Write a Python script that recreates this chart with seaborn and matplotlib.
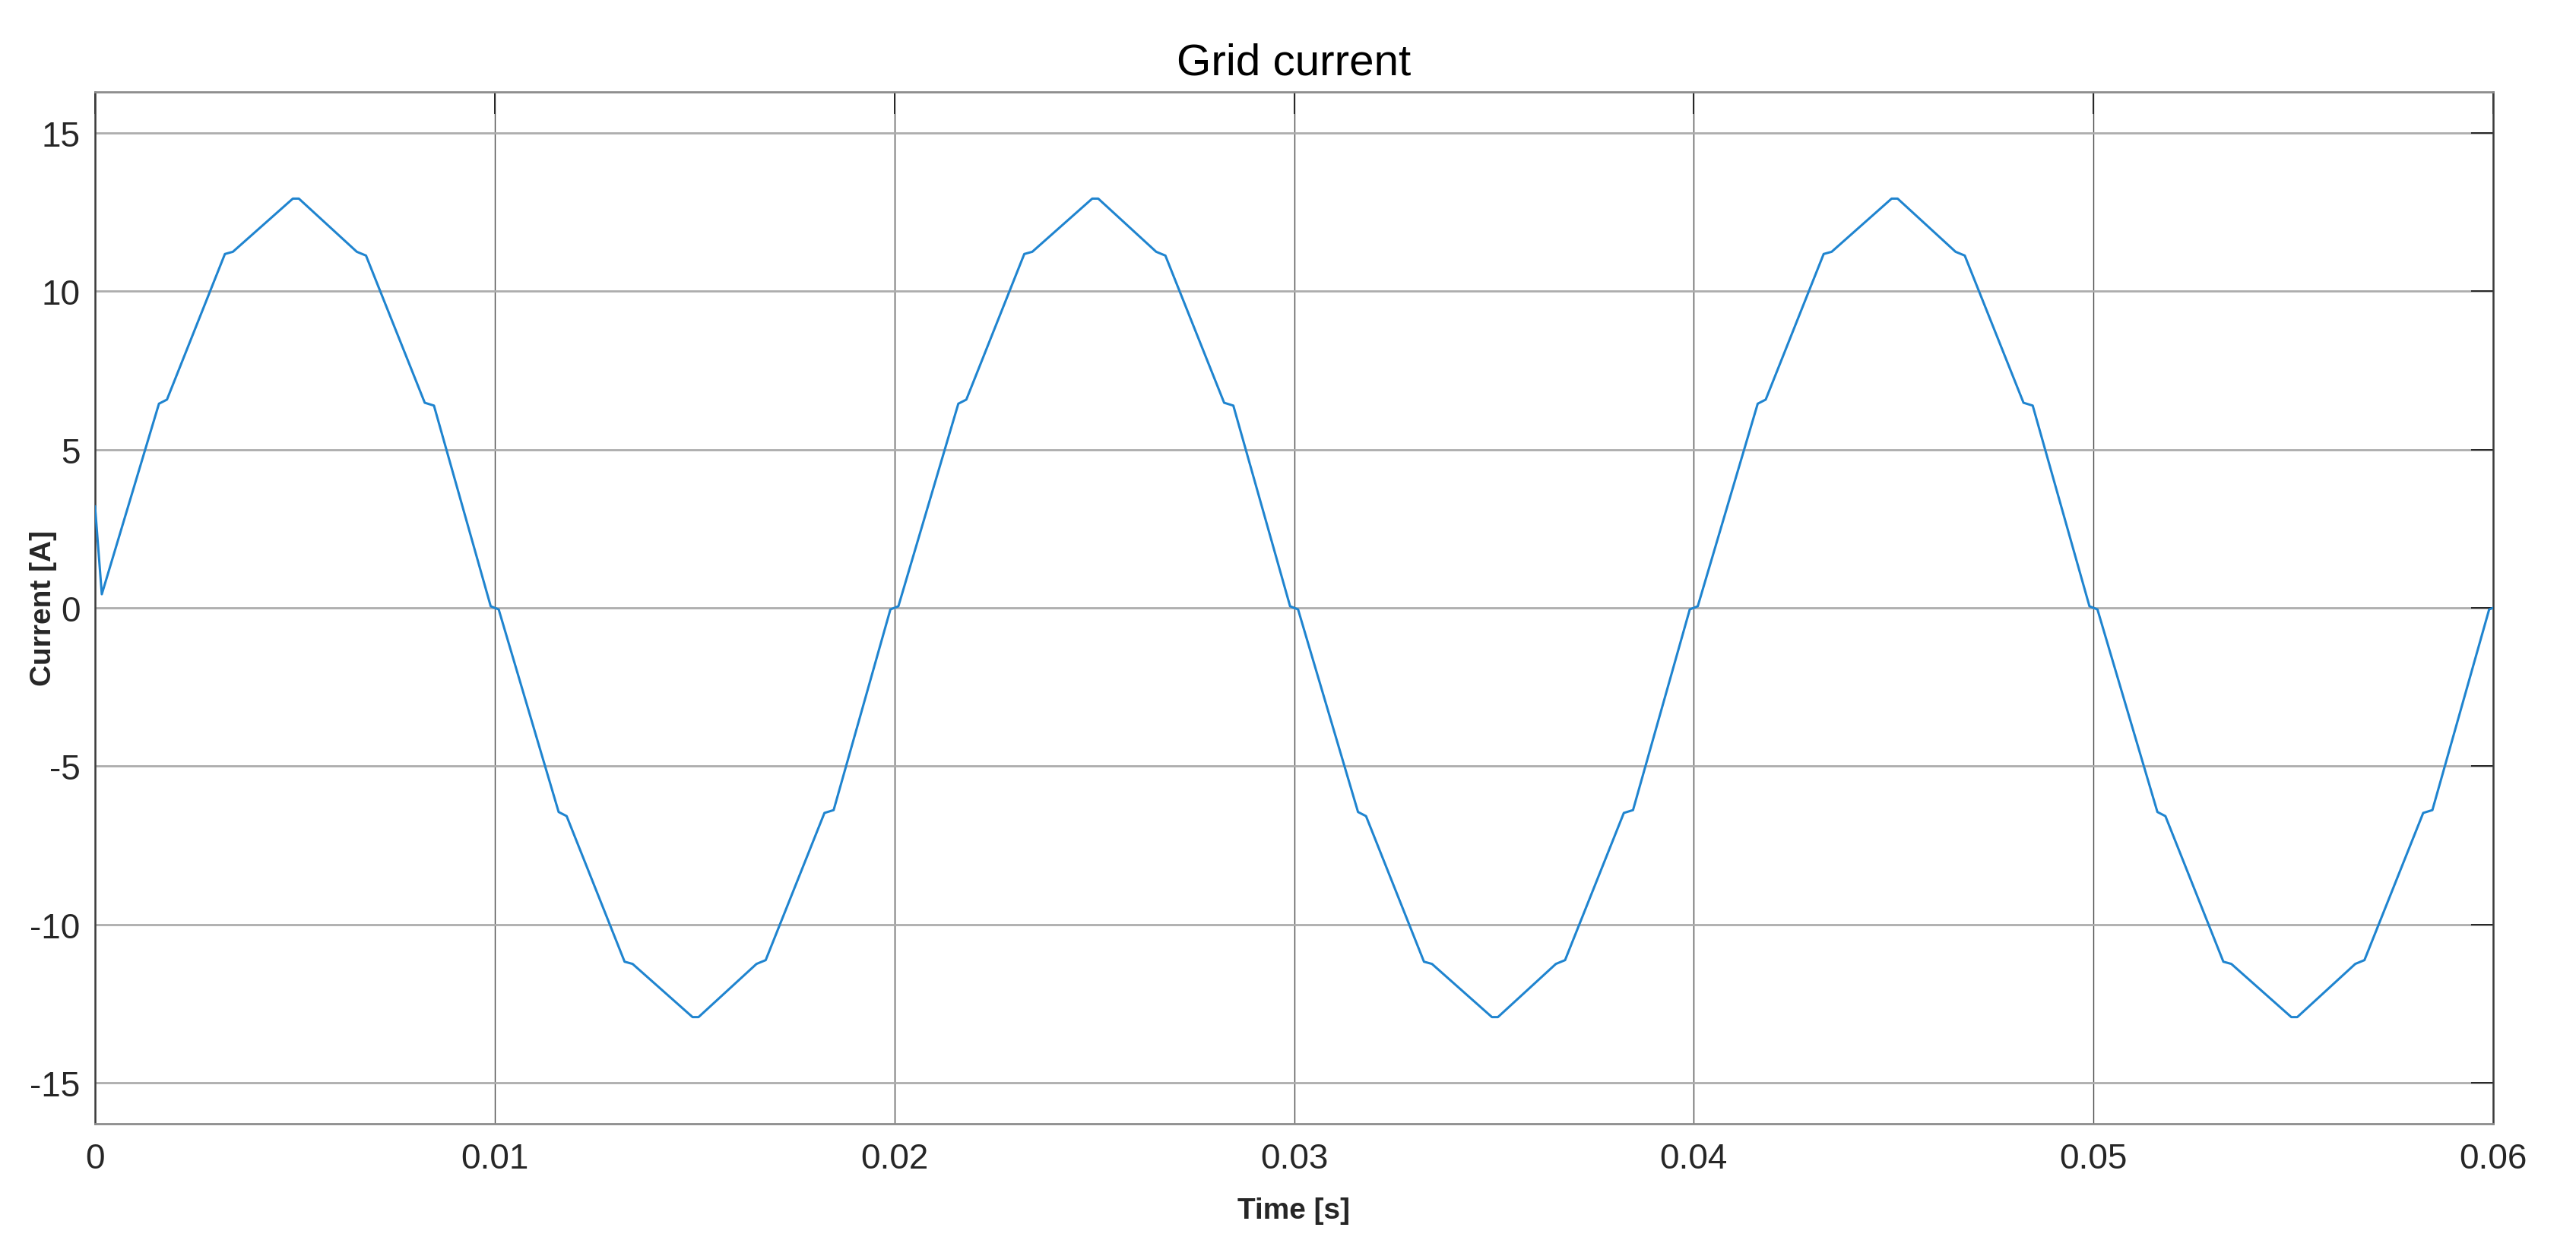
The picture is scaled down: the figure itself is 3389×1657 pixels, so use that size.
import pandas as pd
import seaborn as sns
import matplotlib.pyplot as plt

# -----------------------------
# Data (breakpoints of the waveform)
# -----------------------------
time_s = [
    0.0, 0.00017, 0.0016, 0.0018, 0.00325, 0.00345, 0.00495, 0.0051,
    0.00655, 0.00678, 0.00825, 0.00848, 0.0099,
    0.0101, 0.0116, 0.0118, 0.01325, 0.01345, 0.01495, 0.0151,
    0.01655, 0.01678, 0.01825, 0.01848, 0.0199,
    0.0201, 0.0216, 0.0218, 0.02325, 0.02345, 0.02495, 0.0251,
    0.02655, 0.02678, 0.02825, 0.02848, 0.0299,
    0.0301, 0.0316, 0.0318, 0.03325, 0.03345, 0.03495, 0.0351,
    0.03655, 0.03678, 0.03825, 0.03848, 0.0399,
    0.0401, 0.0416, 0.0418, 0.04325, 0.04345, 0.04495, 0.0451,
    0.04655, 0.04678, 0.04825, 0.04848, 0.0499,
    0.0501, 0.0516, 0.0518, 0.05325, 0.05345, 0.05495, 0.0551,
    0.05655, 0.05678, 0.05825, 0.05848, 0.0599, 0.06,
]
current_a = [
    3.21, 0.43, 6.45, 6.58, 11.18, 11.25, 12.93, 12.93,
    11.25, 11.13, 6.48, 6.39, 0.05,
    -0.05, -6.45, -6.58, -11.18, -11.25, -12.93, -12.93,
    -11.25, -11.13, -6.48, -6.39, -0.05,
    0.05, 6.45, 6.58, 11.18, 11.25, 12.93, 12.93,
    11.25, 11.13, 6.48, 6.39, 0.05,
    -0.05, -6.45, -6.58, -11.18, -11.25, -12.93, -12.93,
    -11.25, -11.13, -6.48, -6.39, -0.05,
    0.05, 6.45, 6.58, 11.18, 11.25, 12.93, 12.93,
    11.25, 11.13, 6.48, 6.39, 0.05,
    -0.05, -6.45, -6.58, -11.18, -11.25, -12.93, -12.93,
    -11.25, -11.13, -6.48, -6.39, -0.05, 0.0,
]

x_ticks = [0, 0.01, 0.02, 0.03, 0.04, 0.05, 0.06]
x_tick_labels = ["0", "0.01", "0.02", "0.03", "0.04", "0.05", "0.06"]
y_ticks = [-15, -10, -5, 0, 5, 10, 15]
y_tick_labels = ["-15", "-10", "-5", "0", "5", "10", "15"]

df = pd.DataFrame({"time": time_s, "current": current_a})

# -----------------------------
# Style
# -----------------------------
sns.set_theme(style="white")
plt.rcParams["font.family"] = ["Liberation Sans", "DejaVu Sans"]
plt.rcParams["axes.unicode_minus"] = False

fig = plt.figure(figsize=(33.89, 16.58), dpi=100)
ax = fig.add_axes([125 / 3389, 1 - 1480 / 1658, (3280 - 125) / 3389, (1480 - 122) / 1658])

sns.lineplot(data=df, x="time", y="current", ax=ax, sort=False, estimator=None,
             color="#1f84cf", linewidth=2.2, zorder=3)

ax.set_xlim(0, 0.06)
ax.set_ylim(-16.3, 16.3)
ax.set_xticks(x_ticks)
ax.set_xticklabels(x_tick_labels)
ax.set_yticks(y_ticks)
ax.set_yticklabels(y_tick_labels)

# grid: vertical lines dark and thin, horizontal lines grey
ax.grid(axis="x", color="#4a4a4a", linewidth=1.0, zorder=1)
ax.grid(axis="y", color="#adadad", linewidth=2.0, zorder=1)
ax.set_axisbelow(True)

for side in ["top", "bottom"]:
    ax.spines[side].set_color("#8c8c8c")
    ax.spines[side].set_linewidth(2.0)
for side in ["left", "right"]:
    ax.spines[side].set_color("#3c3c3c")
    ax.spines[side].set_linewidth(1.8)

ax.tick_params(axis="both", which="major", direction="in", length=21, width=1.4,
               color="#262626", labelcolor="#262626", labelsize=33,
               top=True, right=True)
ax.tick_params(axis="x", pad=17)
ax.tick_params(axis="y", pad=14)

ax.set_title("Grid current", fontsize=42, color="#000000", pad=17)
ax.set_xlabel("Time [s]", fontsize=28, fontweight="bold", color="#262626")
ax.set_ylabel("Current [A]", fontsize=28, fontweight="bold", color="#262626")
ax.xaxis.set_label_coords(0.5, -0.071)
ax.yaxis.set_label_coords(-0.016, 0.5)

fig.savefig("out.png", dpi=100, facecolor="white")
